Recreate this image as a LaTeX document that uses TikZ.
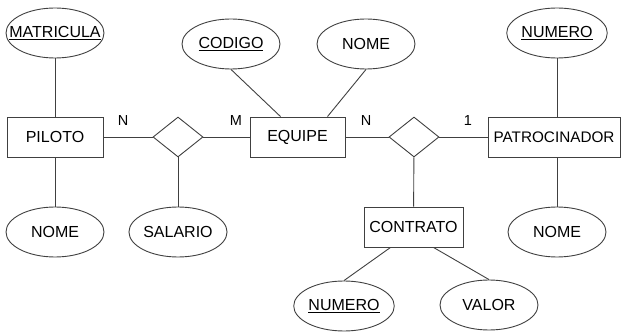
\documentclass[tikz,border=0pt]{standalone}
\usepackage{fontspec}
\setmainfont{Liberation Sans}
\usetikzlibrary{shapes.geometric}

\newcommand{\nowidth}[1]{\makebox[0pt]{#1}}

\begin{document}
\begin{tikzpicture}[x=1pt,y=1pt,
    every node/.style={font=\fontsize{16}{18}\selectfont},
    line/.style={draw=black!75,line width=.9pt},
    entity/.style={line,rectangle,inner sep=0pt,minimum height=40pt},
    attrib/.style={line,ellipse,inner sep=0pt,minimum width=98pt,minimum height=50pt},
    relation/.style={line,diamond,inner sep=0pt,minimum width=50pt,minimum height=40pt},
    card/.style={inner sep=0pt,font=\fontsize{14.5}{16}\selectfont}]
  \useasboundingbox (0,0) rectangle (621,332);
  % entidades
  \node[entity,minimum width=96pt]  (piloto)   at (55,195)    {PILOTO};
  \node[entity,minimum width=95pt]  (equipe)   at (297.5,195) {EQUIPE};
  \node[entity,minimum width=132pt,font=\fontsize{15.3}{17}\selectfont]
                                    (patroc)   at (554,195)   {\nowidth{PATROCINADOR}};
  \node[entity,minimum width=99pt]  (contrato) at (413.5,105) {CONTRATO};
  % relacionamentos
  \node[relation] (rel1) at (178,195) {};
  \node[relation] (rel2) at (414,195) {};
  % atributos
  \node[attrib] (matricula) at (55,299)  {\nowidth{\underline{MATRICULA}}};
  \node[attrib] (nomepil)   at (55,100)  {NOME};
  \node[attrib] (salario)   at (178,100) {SALARIO};
  \node[attrib] (codigo)    at (231,288) {\underline{CODIGO}};
  \node[attrib] (nomeeq)    at (366,288) {NOME};
  \node[attrib] (numpat)    at (557,299) {\underline{NUMERO}};
  \node[attrib] (nomepat)   at (557,100) {NOME};
  \node[attrib] (numcon)    at (344,26)  {\underline{NUMERO}};
  \node[attrib] (valor)     at (489,27)  {VALOR};
  % cardinalidades
  \node[card] (c1) at (123,211) {N};
  \node[card] (c2) at (236,211) {M};
  \node[card] (c3) at (366,211) {N};
  \node[card] (c4) at (468,211) {1};
  % ligacoes
  \draw[line] (piloto) -- (rel1) -- (equipe) -- (rel2) -- (patroc);
  \draw[line] (matricula) -- (piloto) -- (nomepil);
  \draw[line] (rel1) -- (salario);
  \draw[line] (rel2) -- (contrato);
  \draw[line] (codigo.south) -- ([xshift=-17pt]equipe.north);
  \draw[line] (nomeeq.south) -- ([xshift=30pt]equipe.north);
  \draw[line] (numpat) -- (patroc.north -| numpat);
  \draw[line] (patroc.south -| nomepat) -- (nomepat);
  \draw[line] ([xshift=-23pt]contrato.south) -- (numcon.north);
  \draw[line] ([xshift=20pt]contrato.south) -- (valor.north);
\end{tikzpicture}
\end{document}
